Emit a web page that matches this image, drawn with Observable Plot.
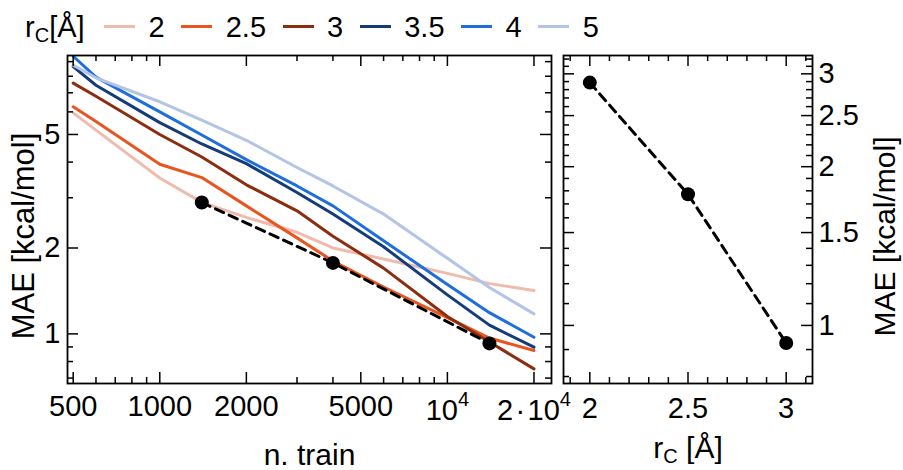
<!DOCTYPE html>
<html>
<head>
<meta charset="utf-8">
<script src="https://cdn.jsdelivr.net/npm/d3@7"></script>
<script src="https://cdn.jsdelivr.net/npm/@observablehq/plot@0.6"></script>
<style>
  body { margin: 0; background: #fff; font-family: "Liberation Sans", Arial, sans-serif; }
  #wrap { position: relative; width: 903px; height: 470px; overflow: hidden; }
  #legend { position: absolute; left: 25px; top: 10px; height: 34px; display: flex; align-items: center;
            font-size: 29px; line-height: 34px; color: #000; white-space: nowrap; }
  #legend sub { font-size: 20px; vertical-align: -5px; line-height: 0; }
  #legend .sw { display: inline-block; width: 31px; height: 3px; margin-left: 16.5px; position: relative; top: -1px; }
  #legend .lb { margin-left: 13.5px; }
  #legend .ttl { margin-right: 3px; }
  #charts { position: absolute; left: 0; top: 44px; display: flex; }
  #charts svg { max-width: none; }
</style>
</head>
<body>
<div id="wrap">
  <div id="legend"></div>
  <div id="charts"></div>
</div>
<script>
// ---- data ----
const nTrain   = [500, 600, 1000, 1400, 2000, 3000, 4000, 6000, 10000, 14000, 20000];
const mae_rc2  = [5.95, 5.18, 3.52, 2.89, 2.56, 2.27, 2.00, 1.83, 1.63, 1.50, 1.42];
const mae_rc25 = [6.25, 5.55, 3.93, 3.53, 2.81, 2.17, 1.80, 1.46, 1.14, 0.967, 0.874];
const mae_rc3  = [7.57, 6.81, 5.00, 4.17, 3.33, 2.70, 2.20, 1.70, 1.15, 0.937, 0.754];
const mae_rc35 = [8.65, 7.44, 5.50, 4.63, 3.95, 3.13, 2.63, 2.02, 1.37, 1.073, 0.898];
const mae_rc4  = [9.40, 7.94, 6.00, 4.98, 4.08, 3.30, 2.81, 2.12, 1.49, 1.187, 0.973];
const mae_rc5  = [8.75, 7.90, 6.51, 5.61, 4.77, 3.83, 3.30, 2.63, 1.84, 1.455, 1.175];

const rcLabels = ["2", "2.5", "3", "3.5", "4", "5"];
const rcColors = ["#eebbad", "#e8551e", "#8c2d10", "#143c78", "#1e6edc", "#b4c4e4"];
const maeSeries = [mae_rc2, mae_rc25, mae_rc3, mae_rc35, mae_rc4, mae_rc5];

// optimal points
const rcBest  = [2, 2.5, 3];
const nBest   = [1400, 4000, 14000];
const maeBest = [2.887, 1.773, 0.926];

// ticks
const xMajorL = [500, 1000, 2000, 5000, 10000, 20000];
const xMinorL = [600, 700, 800, 900, 3000, 4000, 6000, 7000, 8000, 9000];
const yMajorL = [1, 2, 5];
const yMinorL = [0.7, 0.8, 0.9, 3, 4, 6, 7, 8, 9];
const xMajorR = [2, 2.5, 3];
const xMinorR = [1.9, 2.1, 2.2, 2.3, 2.4, 2.6, 2.7, 2.8, 2.9, 3.1];
const yMajorR = [1, 1.5, 2, 2.5, 3];
const yMinorR = [0.8, 0.9, 1.1, 1.2, 1.3, 1.4, 1.6, 1.7, 1.8, 1.9, 2.1, 2.2, 2.3, 2.4, 2.6, 2.7, 2.8, 2.9, 3.1, 3.2];
const xTickLabelL = {500: "500", 1000: "1000", 2000: "2000", 5000: "5000", 10000: "10^4", 20000: "2\u200A·\u200A10^4"};

// ---- build tables ----
const rows = rcLabels.flatMap((rc, i) => nTrain.map((n, j) => ({rc, n, mae: maeSeries[i][j]})));
const best = rcBest.map((rc, i) => ({rc, n: nBest[i], mae: maeBest[i]}));

const H = 426, MT = 11, MB = 87;
const FH = H - MT - MB;
const fontFamily = '"Liberation Sans", Arial, sans-serif';
const MAJ = 11, MIN = 6, TW = 1.5;

function frameTicks(xMaj, xMin, yMaj, yMin, FW) {
  const t = [];
  for (const [vals, len] of [[xMaj, MAJ], [xMin, MIN]]) {
    t.push(Plot.tickX(vals, {x: d => d, insetTop: FH - len, stroke: "black", strokeWidth: TW}));
    t.push(Plot.tickX(vals, {x: d => d, insetBottom: FH - len, stroke: "black", strokeWidth: TW}));
  }
  for (const [vals, len] of [[yMaj, MAJ], [yMin, MIN]]) {
    t.push(Plot.tickY(vals, {y: d => d, insetRight: FW - len, stroke: "black", strokeWidth: TW}));
    t.push(Plot.tickY(vals, {y: d => d, insetLeft: FW - len, stroke: "black", strokeWidth: TW}));
  }
  return t;
}

// ---- left chart ----
const WL = 557, MLL = 67, MRL = 6;
const left = Plot.plot({
  width: WL, height: H, marginLeft: MLL, marginRight: MRL, marginTop: MT, marginBottom: MB,
  style: {fontFamily, fontSize: "29px", color: "#000", background: "transparent", overflow: "visible"},
  x: {type: "log", domain: [477.7, 23012]},
  y: {type: "log", domain: [0.67, 9.457]},
  color: {domain: rcLabels, range: rcColors},
  marks: [
    Plot.axisX({ticks: xMajorL, tickSize: 0, tickPadding: 12, tickFormat: d => xTickLabelL[d], label: null}),
    Plot.axisY({ticks: yMajorL, tickSize: 0, tickPadding: 7, tickFormat: d => String(d), label: null}),
    Plot.line(rows, {x: "n", y: "mae", z: "rc", stroke: "rc", strokeWidth: 3, clip: true}),
    Plot.line(best, {x: "n", y: "mae", stroke: "black", strokeWidth: 3, strokeDasharray: "9,6"}),
    Plot.dot(best, {x: "n", y: "mae", r: 7, fill: "black", stroke: "none"}),
    ...frameTicks(xMajorL, xMinorL, yMajorL, yMinorL, WL - MLL - MRL),
    Plot.frame({stroke: "black", strokeWidth: 1.8}),
    Plot.text(["MAE [kcal/mol]"], {text: d => d, frameAnchor: "left", rotate: -90, dx: -43, dy: 16.5,
      fontSize: 31, textAnchor: "middle", lineAnchor: "middle", fill: "black"}),
    Plot.text(["n. train"], {text: d => d, frameAnchor: "bottom", dy: 81, fontSize: 30,
      textAnchor: "middle", lineAnchor: "bottom", fill: "black"})
  ]
});

// ---- right chart ----
const WR = 346, MLR = 6, MRR = 91;
const right = Plot.plot({
  width: WR, height: H, marginLeft: MLR, marginRight: MRR, marginTop: MT, marginBottom: MB,
  style: {fontFamily, fontSize: "29px", color: "#000", background: "transparent", overflow: "visible"},
  x: {type: "linear", domain: [1.866, 3.134]},
  y: {type: "log", domain: [0.776, 3.25]},
  marks: [
    Plot.axisX({ticks: xMajorR, tickSize: 0, tickPadding: 14, tickFormat: d => String(d), label: null}),
    Plot.axisY({anchor: "right", ticks: yMajorR, tickSize: 0, tickPadding: 6, tickFormat: d => String(d), label: null}),
    Plot.line(best, {x: "rc", y: "mae", stroke: "black", strokeWidth: 3, strokeDasharray: "9,6"}),
    Plot.dot(best, {x: "rc", y: "mae", r: 7, fill: "black", stroke: "none"}),
    ...frameTicks(xMajorR, xMinorR, yMajorR, yMinorR, WR - MLR - MRR),
    Plot.frame({stroke: "black", strokeWidth: 1.8}),
    Plot.text(["MAE [kcal/mol]"], {text: d => d, frameAnchor: "right", rotate: -90, dx: 73, dy: 17,
      fontSize: 30, textAnchor: "middle", lineAnchor: "middle", fill: "black"}),
    Plot.text(["r_C [Å]"], {text: d => d, frameAnchor: "bottom", dy: 74, fontSize: 30,
      textAnchor: "middle", lineAnchor: "bottom", fill: "black"})
  ]
});

// ---- rich text (superscripts / subscripts) ----
const NS = "http://www.w3.org/2000/svg";
function ts(txt, attrs) {
  const e = document.createElementNS(NS, "tspan");
  for (const k in attrs) e.setAttribute(k, attrs[k]);
  e.textContent = txt;
  return e;
}
function richText(svg) {
  svg.querySelectorAll("text").forEach(t => {
    const s = t.textContent;
    if (s.includes("^")) {
      const [base, sup] = s.split("^");
      t.textContent = "";
      t.append(ts(base, {dy: 4}), ts(sup, {dy: -14, "font-size": 20}));
    } else if (s.includes("_")) {
      const m = s.match(/^(.*?)_(\S)(.*)$/);
      t.textContent = "";
      t.append(ts(m[1], {}), ts(m[2], {dy: 5, "font-size": 20}), ts(m[3], {dy: -5}));
    }
  });
}
richText(left);
richText(right);

document.getElementById("charts").append(left, right);

// ---- legend ----
const lg = document.getElementById("legend");
lg.innerHTML = '<span class="ttl">r<sub>C</sub>[Å]</span>' +
  rcLabels.map((l, i) => `<span class="sw" style="background:${rcColors[i]}"></span><span class="lb">${l}</span>`).join("");
</script>
</body>
</html>
